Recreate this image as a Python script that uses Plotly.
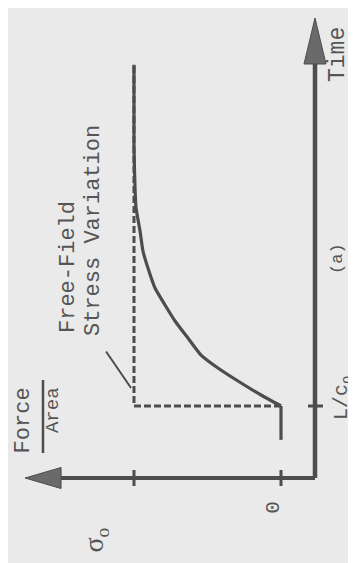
import plotly.graph_objects as go

# ---- data (stress as fraction of sigma_o, time in units of L/c_o) ----
pre_time = [0.53, 1.0]
pre_stress = [0.0, 0.0]
curve_time = [1.0, 1.153, 1.347, 1.528, 1.708, 1.944, 2.181, 2.403, 2.639, 2.917, 3.153, 3.431, 3.75, 4.03, 4.6, 5.74]
curve_stress = [0.0, 0.136, 0.293, 0.429, 0.544, 0.633, 0.721, 0.789, 0.857, 0.905, 0.939, 0.959, 0.986, 0.993, 1.0, 1.0]

free_field_time = [1.0, 1.0, 5.74]
free_field_stress = [0.0, 1.0, 1.0]

force_ticks = [0.0, 1.0]
force_tick_labels = ["0", "σ<sub>o</sub>"]
time_ticks = [1.0]
time_tick_labels = ["L/c<sub>o</sub>"]

# ---- layout constants ----
W, H = 356, 563
X_RANGE = [1.857, -0.5646]   # force axis drawn horizontally, increasing to the left
Y_RANGE = [-1.2917, 6.528]   # time axis drawn vertically, increasing upward
PX_F = 147.0                 # pixels per unit of stress
PX_T = 72.0                  # pixels per unit of time

TIME_AXIS_F = -0.2313        # position of the time axis
TIME_AXIS_END = 6.389
FORCE_AXIS_END = 1.741
ARROW_LEN_PX = 46
ARROW_HALF_PX = 11

INK = "#4d4d4d"
TEXT_INK = "#555555"
FONT = "Liberation Mono"
TEXT_SHIFT = 6 / PX_F        # compensates rotated-text box offset

fig = go.Figure()

# axes
fig.add_trace(go.Scatter(x=[TIME_AXIS_F, TIME_AXIS_F], y=[0, TIME_AXIS_END - ARROW_LEN_PX / PX_T],
                         mode="lines", line=dict(color=INK, width=4.5), hoverinfo="skip"))
fig.add_trace(go.Scatter(x=[TIME_AXIS_F, FORCE_AXIS_END - 36 / PX_F], y=[0, 0],
                         mode="lines", line=dict(color=INK, width=4), hoverinfo="skip"))

# arrowheads
tb = TIME_AXIS_END - ARROW_LEN_PX / PX_T
hw = ARROW_HALF_PX / PX_F
fig.add_trace(go.Scatter(x=[TIME_AXIS_F - hw, TIME_AXIS_F, TIME_AXIS_F + hw, TIME_AXIS_F - hw],
                         y=[tb, TIME_AXIS_END, tb, tb], mode="lines", fill="toself",
                         fillcolor="#6a6a6a", line=dict(color=INK, width=1), hoverinfo="skip"))
fb = FORCE_AXIS_END - 36 / PX_F
hh = 10.5 / PX_T
fig.add_trace(go.Scatter(x=[fb, FORCE_AXIS_END, fb, fb], y=[-hh, 0, hh, -hh], mode="lines",
                         fill="toself", fillcolor="#6a6a6a", line=dict(color=INK, width=1),
                         hoverinfo="skip"))

# ticks on the force axis
for f in force_ticks:
    fig.add_trace(go.Scatter(x=[f, f], y=[-8 / PX_T, 8 / PX_T], mode="lines",
                             line=dict(color=INK, width=3), hoverinfo="skip"))
# tick on the time axis
for t in time_ticks:
    fig.add_trace(go.Scatter(x=[TIME_AXIS_F + 7 / PX_F, TIME_AXIS_F - 8 / PX_F], y=[t, t], mode="lines",
                             line=dict(color=INK, width=3), hoverinfo="skip"))

# free-field step (dashed)
fig.add_trace(go.Scatter(x=free_field_stress, y=free_field_time, mode="lines",
                         line=dict(color=INK, width=3, dash="7px,3px"), hoverinfo="skip"))
# actual stress: zero before arrival, then the rise
fig.add_trace(go.Scatter(x=pre_stress, y=pre_time, mode="lines",
                         line=dict(color=INK, width=3.2), hoverinfo="skip"))
fig.add_trace(go.Scatter(x=curve_stress, y=curve_time, mode="lines", line_shape="spline",
                         line=dict(color=INK, width=3.2, smoothing=0.5), hoverinfo="skip"))

ann = []
def label(text, f, t, size, font=FONT):
    ann.append(dict(x=f + TEXT_SHIFT, y=t, xref="x", yref="y", text=text, showarrow=False, textangle=-90,
                    xanchor="center", yanchor="middle",
                    font=dict(family=font, size=size, color=TEXT_INK)))

# tick labels
label(force_tick_labels[0], force_ticks[0] + 0.007, -0.40, 21)
label(force_tick_labels[1], force_ticks[1] + 0.22, -0.86, 28, "Liberation Serif")
label(time_tick_labels[0], TIME_AXIS_F - 0.225, time_ticks[0] + 0.111, 20)

# axis titles and other text
label("Time", -0.4286, 5.875, 23)
label("(a)", -0.4286, 3.042, 17)
label("Force", 1.714, 0.80, 22)
label("Area", 1.505, 0.94, 19)
label("Free-Field", 1.401, 2.931, 22)
label("Stress Variation", 1.231, 3.431, 22)

# fraction bar of Force/Area
fig.add_trace(go.Scatter(x=[1.619, 1.619], y=[0.347, 1.361], mode="lines",
                         line=dict(color=INK, width=2.5), hoverinfo="skip"))

# leader line from the label to the free-field step
ann.append(dict(x=1.02, y=1.25, xref="x", yref="y", ax=1.197, ay=1.778, axref="x", ayref="y",
                text="", showarrow=True, arrowhead=0, arrowwidth=2, arrowcolor=INK))

fig.update_layout(
    width=W, height=H, margin=dict(l=0, r=0, t=0, b=0),
    paper_bgcolor="#eaeaea", plot_bgcolor="#eaeaea",
    showlegend=False, annotations=ann,
    xaxis=dict(range=X_RANGE, visible=False, fixedrange=True),
    yaxis=dict(range=Y_RANGE, visible=False, fixedrange=True),
)

fig.write_html("out.html")
